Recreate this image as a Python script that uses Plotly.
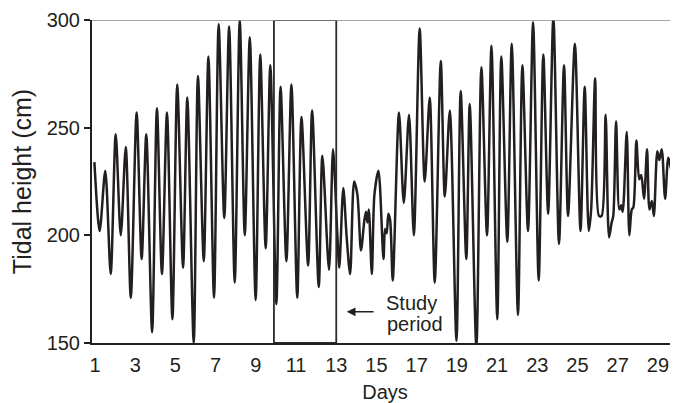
import plotly.graph_objects as go

# Tidal height readings (day, cm)
days = [0.97, 1.23, 1.51, 1.78, 2.03, 2.28, 2.53, 2.78, 3.07, 3.32, 3.55, 3.84,
        4.08, 4.33, 4.58, 4.85, 5.09, 5.38, 5.59, 5.91, 6.12, 6.41, 6.64, 6.92,
        7.15, 7.43, 7.67, 7.95, 8.20, 8.45, 8.70, 8.99, 9.22, 9.49, 9.72, 10.02,
        10.23, 10.52, 10.77, 11.06, 11.27, 11.60, 11.80, 12.13, 12.31, 12.64, 12.84,
        13.05, 13.15, 13.35, 13.52, 13.69, 13.89, 14.05, 14.23, 14.40, 14.48, 14.55,
        14.62, 14.77, 14.90, 15.10, 15.35, 15.43, 15.51, 15.59, 15.68, 15.81,
        16.12, 16.36, 16.62, 16.86, 17.15, 17.40, 17.65, 17.90, 18.20, 18.40, 18.65,
        18.98, 19.19, 19.47, 19.64, 19.97, 20.22, 20.50, 20.72, 21.01, 21.21, 21.51,
        21.73, 22.04, 22.26, 22.54, 22.79, 23.07, 23.30, 23.54, 23.80, 24.08, 24.33,
        24.53, 24.87, 25.15, 25.36, 25.56, 25.68, 25.88, 26.07, 26.20, 26.40, 26.57,
        26.70, 26.78, 26.92, 27.08, 27.17, 27.25, 27.45, 27.58, 27.70, 27.78, 27.93,
        28.07, 28.17, 28.31, 28.46, 28.58, 28.70, 28.80, 28.97, 29.07, 29.19, 29.36,
        29.52, 29.69, 29.77, 29.89, 29.99]
height = [234, 202, 230, 182, 247, 200, 241, 171, 257, 189, 247, 155,
          259, 182, 257, 161, 270, 185, 264, 150, 274, 188, 283, 171,
          298, 208, 297, 178, 300, 200, 292, 170, 284, 194, 279, 168,
          269, 188, 270, 171, 255, 186, 258, 176, 237, 184, 240,
          201, 185, 222, 199, 182, 225, 219, 193, 207, 211, 206,
          212, 182, 219, 230, 189, 203, 201, 210, 207, 179,
          257, 215, 256, 200, 296, 225, 264, 178, 281, 218, 258,
          151, 267, 189, 261, 148, 278, 200, 288, 161, 283, 197,
          289, 163, 279, 202, 299, 179, 284, 210, 301, 196, 279,
          209, 289, 202, 269, 202, 212, 273, 209, 209, 256, 199,
          206, 209, 253, 212, 214, 211, 248, 200, 212, 213, 244,
          226, 228, 217, 240, 212, 216, 209, 239, 235, 240, 217,
          236, 230, 230, 206, 241]

x_ticks = [1, 3, 5, 7, 9, 11, 13, 15, 17, 19, 21, 23, 25, 27, 29]
y_ticks = [150, 200, 250, 300]
study_start, study_end = 9.9, 13.0

FONT = "Liberation Sans, Arial, sans-serif"
INK = "#231f20"

fig = go.Figure()
fig.add_trace(go.Scatter(
    x=days, y=height, mode="lines",
    line=dict(color=INK, width=2.5, shape="spline", smoothing=0.8),
    showlegend=False, hoverinfo="skip",
))

# study-period box
fig.add_shape(type="rect", xref="x", yref="y",
              x0=study_start, x1=study_end, y0=150, y1=300,
              line=dict(color="#2a2a2a", width=1.8))
# thin top border line
fig.add_shape(type="line", xref="paper", yref="y", x0=0, x1=1, y0=300, y1=300,
              line=dict(color="#8a8a8a", width=1.4))

# arrow and label
fig.add_annotation(x=13.52, y=164.5, ax=14.93, ay=164.5, xref="x", yref="y",
                   axref="x", ayref="y", text="", showarrow=True,
                   arrowhead=2, arrowsize=1.1, arrowwidth=1.6, arrowcolor=INK)
fig.add_annotation(x=16.72, y=168.6, xref="x", yref="y", text="Study",
                   showarrow=False, xanchor="center", yanchor="middle",
                   font=dict(family=FONT, size=20, color=INK))
fig.add_annotation(x=16.92, y=158.6, xref="x", yref="y", text="period",
                   showarrow=False, xanchor="center", yanchor="middle",
                   font=dict(family=FONT, size=20, color=INK))

# page body has an 8px margin: the figure is sized so the plot lands at the reference pixels
fig.update_layout(
    width=670, height=395,
    margin=dict(l=84, r=0, t=12, b=60, autoexpand=False),
    paper_bgcolor="white", plot_bgcolor="white",
    font=dict(family=FONT, size=20, color=INK),
    xaxis=dict(range=[0.85, 30.0], tickvals=x_ticks, ticktext=[str(v) for v in x_ticks],
               showgrid=False, zeroline=False, showline=True, linecolor=INK, linewidth=2,
               ticks="", tickfont=dict(size=20), ticklabelstandoff=3, automargin=False,
               title=dict(text="Days", font=dict(size=20), standoff=10)),
    yaxis=dict(range=[150, 300], tickvals=y_ticks, showgrid=False, zeroline=False,
               showline=True, linecolor=INK, linewidth=2, ticks="outside",
               ticklen=6, tickwidth=1.5, tickcolor=INK, tickfont=dict(size=20),
               automargin=False,
               title=dict(text="Tidal height (cm)", font=dict(size=25), standoff=10)),
)

fig.write_html("out.html")
